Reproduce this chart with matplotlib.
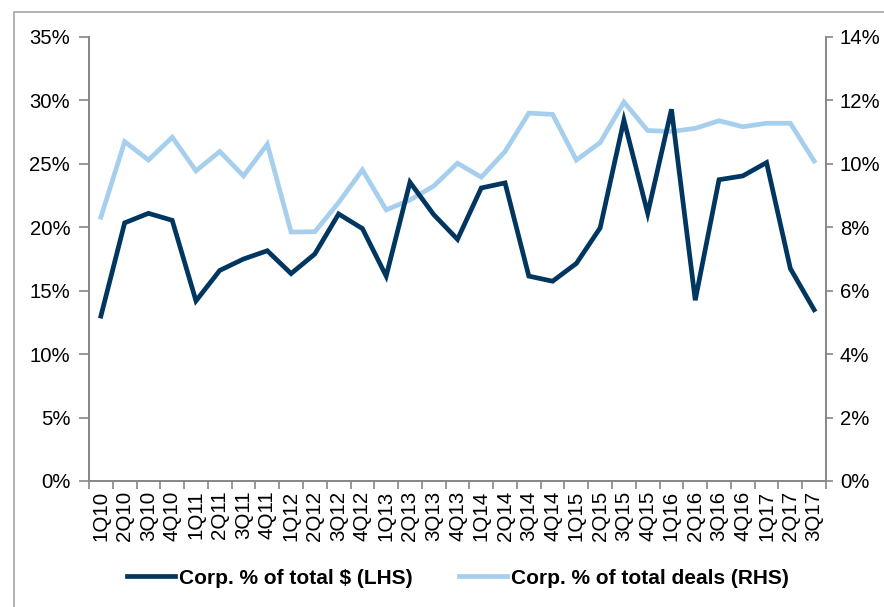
import matplotlib
matplotlib.use("Agg")
import matplotlib.pyplot as plt
import numpy as np
from matplotlib.patches import Rectangle
from matplotlib.ticker import FixedLocator, PercentFormatter

plt.rcParams["font.family"] = ["Liberation Sans", "DejaVu Sans"]

quarters = [
    "1Q10", "2Q10", "3Q10", "4Q10", "1Q11", "2Q11", "3Q11", "4Q11",
    "1Q12", "2Q12", "3Q12", "4Q12", "1Q13", "2Q13", "3Q13", "4Q13",
    "1Q14", "2Q14", "3Q14", "4Q14", "1Q15", "2Q15", "3Q15", "4Q15",
    "1Q16", "2Q16", "3Q16", "4Q16", "1Q17", "2Q17", "3Q17",
]
# Corp. % of total $ (left axis)
corp_dollars = [
    13.0, 20.35, 21.1, 20.55, 14.2, 16.6, 17.5, 18.15,
    16.35, 17.9, 21.05, 19.9, 16.15, 23.55, 21.0, 19.05,
    23.1, 23.5, 16.15, 15.75, 17.15, 19.95, 28.45, 21.1,
    29.3, 14.25, 23.75, 24.05, 25.1, 16.75, 13.5,
]
# Corp. % of total deals (right axis)
corp_deals = [
    8.32, 10.7, 10.12, 10.84, 9.78, 10.39, 9.62, 10.62,
    7.85, 7.86, 8.78, 9.81, 8.55, 8.86, 9.30, 10.02,
    9.58, 10.39, 11.6, 11.56, 10.12, 10.67, 11.95, 11.05,
    11.02, 11.12, 11.36, 11.17, 11.28, 11.28, 10.09,
]

DARK = "#003660"
LIGHT = "#A6CFEE"
GRID_GREY = "#868686"

fig = plt.figure(figsize=(8.84, 6.07), dpi=100)
ax = fig.add_axes([89 / 884, 1 - 481 / 607, (826 - 89) / 884, (481 - 37) / 607])
ax2 = ax.twinx()

x = np.arange(len(quarters))
l1, = ax.plot(x, corp_dollars, color=DARK, lw=3.4, solid_joinstyle="miter",
              label="Corp. % of total $ (LHS)", zorder=3)
l2, = ax2.plot(x, corp_deals, color=LIGHT, lw=3.4, solid_joinstyle="miter",
               label="Corp. % of total deals (RHS)", zorder=2)
ax.set_zorder(ax2.get_zorder() + 1)
ax.patch.set_visible(False)

ax.set_xlim(-0.5, len(quarters) - 0.5)
ax.set_ylim(0, 35)
ax2.set_ylim(0, 14)
ax.set_yticks(np.arange(0, 36, 5))
ax2.set_yticks(np.arange(0, 15, 2))
ax.yaxis.set_major_formatter(PercentFormatter(decimals=0))
ax2.yaxis.set_major_formatter(PercentFormatter(decimals=0))

ax.set_xticks(x)
ax.set_xticklabels(quarters, rotation=90, fontsize=14.8)
ax.tick_params(axis="x", which="major", length=0, pad=7)
ax.xaxis.set_minor_locator(FixedLocator(np.arange(-0.5, len(quarters), 1)))
ax.tick_params(axis="x", which="minor", length=6, color=GRID_GREY, width=1.2)
ax.tick_params(axis="y", length=7, color=GRID_GREY, width=1.2, labelsize=14.6, pad=6.5)
ax2.tick_params(axis="y", length=5, color=GRID_GREY, width=1.2, labelsize=14.6, pad=5)
ax2.tick_params(axis="x", length=0)

for a in (ax, ax2):
    a.spines["top"].set_visible(False)
    for side in ("left", "right", "bottom"):
        a.spines[side].set_color(GRID_GREY)
        a.spines[side].set_linewidth(1.2)

fig.legend(handles=[l1, l2], loc="center", bbox_to_anchor=(458 / 884, 1 - 578 / 607),
           ncol=2, frameon=False, handlelength=2.3, handletextpad=0.2,
           columnspacing=2.25, prop={"size": 15, "weight": "bold"})

# outer frame (only top and left edges visible in the crop)
fig.patches.append(Rectangle((14 / 884, -0.1), 1.2, 1 - 12 / 607 + 0.1,
                             transform=fig.transFigure, fill=False,
                             edgecolor="#A6A6A6", lw=1.2))

fig.savefig("out.png", dpi=100)
